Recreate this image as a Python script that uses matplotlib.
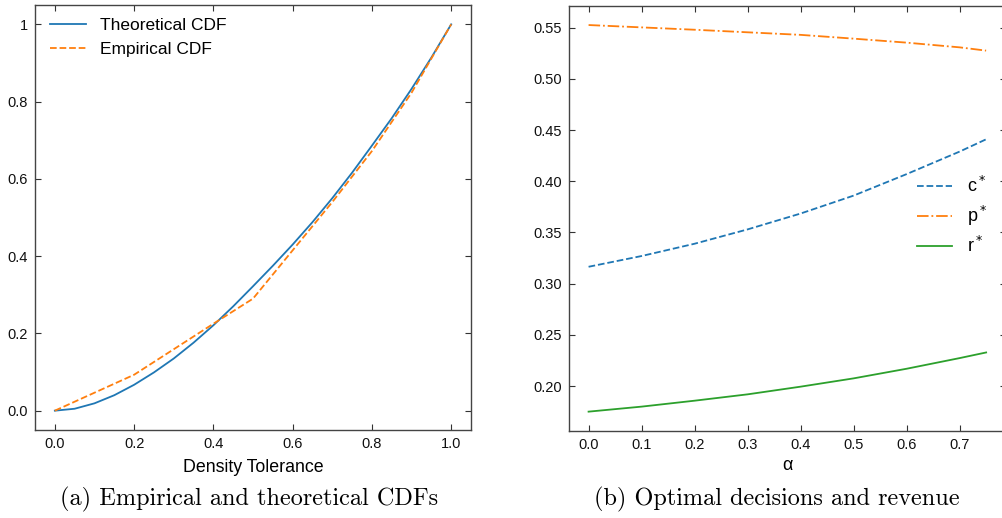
import matplotlib
matplotlib.use("Agg")
import matplotlib.pyplot as plt
from matplotlib.ticker import FixedLocator

plt.rcParams['font.family'] = ['Liberation Sans', 'DejaVu Sans']

# (a) CDFs
tolerance = [0.0, 0.05, 0.1, 0.15, 0.2, 0.25, 0.3, 0.35, 0.4, 0.45, 0.5,
             0.55, 0.6, 0.65, 0.7, 0.75, 0.8, 0.85, 0.9, 0.95, 1.0]
theoretical_cdf = [0.0, 0.005, 0.019, 0.040, 0.067, 0.099, 0.135, 0.176, 0.221, 0.270, 0.322,
                   0.375, 0.430, 0.488, 0.550, 0.616, 0.686, 0.757, 0.833, 0.914, 1.0]
emp_x = [0.0, 0.2, 0.4, 0.5, 0.6, 0.7, 0.8, 0.9, 1.0]
emp_cdf = [0.0, 0.093, 0.225, 0.29, 0.415, 0.54, 0.672, 0.823, 1.0]
cdf_yticks = [0.0, 0.2, 0.4, 0.6, 0.8, 1.0]
cdf_yticklabels = ["0.0", "0.2", "0.4", "0.6", "0.8", "1"]

# (b) optimal decisions vs alpha
alpha = [0.0, 0.1, 0.2, 0.3, 0.4, 0.5, 0.6, 0.7, 0.75]
c_star = [0.3165, 0.327, 0.339, 0.353, 0.3685, 0.386, 0.407, 0.429, 0.441]
p_star = [0.5526, 0.5503, 0.548, 0.5455, 0.543, 0.5393, 0.5354, 0.5308, 0.5276]
r_star = [0.175, 0.1799, 0.1857, 0.1919, 0.1994, 0.2075, 0.2169, 0.2273, 0.2328]

blue = "#1f77b4"
orange = "#ff7f0e"
green = "#2ca02c"

fig = plt.figure(figsize=(10.03, 5.18), dpi=100)
ax1 = fig.add_axes([0.0349, 0.1699, 0.4347, 0.8204])
ax2 = fig.add_axes([0.567, 0.168, 0.436, 0.821])


def style_axes(ax):
    ax.tick_params(direction="in", top=True, right=True, length=4, width=0.8,
                   labelsize=10.5, colors="#333333", labelcolor="#111111", pad=5)
    for s in ax.spines.values():
        s.set_color("#444444")
        s.set_linewidth(1.0)


ax1.plot(tolerance, theoretical_cdf, color=blue, lw=1.3, label="Theoretical CDF")
ax1.plot(emp_x, emp_cdf, color=orange, lw=1.3, ls="--", label="Empirical CDF")
ax1.yaxis.set_major_locator(FixedLocator(cdf_yticks))
ax1.set_yticklabels(cdf_yticklabels)
ax1.set_xticks([0.0, 0.2, 0.4, 0.6, 0.8, 1.0])
ax1.set_xlabel("Density Tolerance", fontsize=12.8, labelpad=6)
ax1.legend(loc="upper left", bbox_to_anchor=(0.034, 0.969), frameon=False, fontsize=12.5,
           handlelength=2.1, handletextpad=0.8, labelspacing=0.5,
           borderpad=0, borderaxespad=0)
style_axes(ax1)

ax2.plot(alpha, c_star, color=blue, lw=1.3, ls="--", label="c$^*$")
ax2.plot(alpha, p_star, color=orange, lw=1.3, ls="-.", label="p$^*$")
ax2.plot(alpha, r_star, color=green, lw=1.3, label="r$^*$")
ax2.set_xticks([0.0, 0.1, 0.2, 0.3, 0.4, 0.5, 0.6, 0.7])
ax2.set_yticks([0.20, 0.25, 0.30, 0.35, 0.40, 0.45, 0.50, 0.55])
ax2.set_xlabel("α", fontsize=13, labelpad=4)
ax2.legend(loc="center left", bbox_to_anchor=(0.797, 0.5055), frameon=False, fontsize=13,
           handlelength=1.95, handletextpad=0.78, labelspacing=0.45,
           borderpad=0, borderaxespad=0)
style_axes(ax2)

fig.text(0.248, 0.035, "(a) Empirical and theoretical CDFs", family="cmr10",
         fontsize=17.5, ha="center", va="center")
fig.text(0.774, 0.035, "(b) Optimal decisions and revenue", family="cmr10",
         fontsize=17.5, ha="center", va="center")

fig.savefig("out.png", dpi=100)
